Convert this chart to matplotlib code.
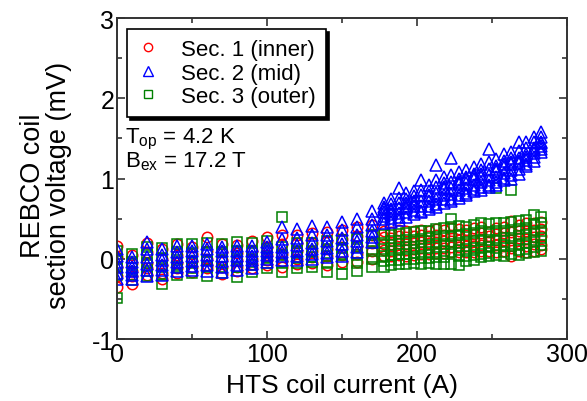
#!/usr/bin/env python3
"""REBCO coil section voltage vs HTS coil current."""

import matplotlib

matplotlib.use("Agg")
import matplotlib.pyplot as plt
from matplotlib.lines import Line2D
from matplotlib.ticker import MultipleLocator

plt.rcParams["font.family"] = ["Liberation Sans", "DejaVu Sans"]
plt.rcParams["mathtext.fontset"] = "custom"
plt.rcParams["mathtext.rm"] = "Liberation Sans"
plt.rcParams["mathtext.it"] = "Liberation Sans:italic"
plt.rcParams["axes.unicode_minus"] = False

# current columns (A)
current_low = [0, 10, 20, 30, 40, 50, 60, 70, 80, 90, 100, 110, 120, 130, 140, 150, 160, 170]
current_high = [178, 183, 188, 193, 198, 203, 208, 213, 218, 223, 228,
                233, 238, 243, 248, 253, 258, 263, 268, 273, 278, 283]

# section voltages (mV), one list per current column
sec1_low = [
    [0.16, 0.02, -0.1, -0.22, -0.35],
    [0.05, -0.05, -0.15, -0.22, -0.31],
    [0.2, 0.08, -0.05, -0.12, -0.2],
    [0.12, 0.0, -0.08, -0.18, -0.25],
    [0.18, 0.05, -0.05, -0.12, -0.18],
    [0.15, 0.06, -0.03, -0.1, -0.17],
    [0.27, 0.1, 0.0, -0.08, -0.12],
    [0.19, 0.08, -0.02, -0.1, -0.19],
    [0.17, 0.07, -0.02, -0.1, -0.15],
    [0.22, 0.1, 0.0, -0.06, -0.12],
    [0.27, 0.15, 0.05, -0.02, -0.08],
    [0.3, 0.18, 0.06, -0.03, -0.1],
    [0.3, 0.2, 0.1, 0.0, -0.06],
    [0.32, 0.2, 0.1, 0.02, -0.05],
    [0.33, 0.22, 0.12, 0.03, -0.08],
    [0.36, 0.25, 0.15, 0.05, -0.04],
    [0.4, 0.28, 0.16, 0.06, -0.04],
    [0.42, 0.3, 0.2, 0.1, 0.0],
]
sec1_high = [
    [0.35, 0.27, 0.19, 0.11, 0.04],
    [0.33, 0.26, 0.18, 0.1, 0.03],
    [0.36, 0.28, 0.2, 0.12, 0.05],
    [0.34, 0.27, 0.19, 0.11, 0.04],
    [0.35, 0.28, 0.2, 0.12, 0.05],
    [0.36, 0.29, 0.21, 0.13, 0.06],
    [0.35, 0.28, 0.2, 0.12, 0.06],
    [0.37, 0.29, 0.21, 0.14, 0.07],
    [0.36, 0.29, 0.22, 0.14, 0.07],
    [0.38, 0.3, 0.22, 0.15, 0.08],
    [0.37, 0.3, 0.23, 0.15, 0.08],
    [0.36, 0.3, 0.23, 0.16, 0.09],
    [0.38, 0.31, 0.24, 0.16, 0.09],
    [0.39, 0.32, 0.25, 0.17, 0.1],
    [0.33, 0.28, 0.22, 0.16, 0.1],
    [0.38, 0.31, 0.24, 0.17, 0.08],
    [0.4, 0.32, 0.24, 0.16, 0.1],
    [0.47, 0.33, 0.24, 0.14, 0.04],
    [0.42, 0.34, 0.26, 0.18, 0.1],
    [0.44, 0.35, 0.25, 0.16, 0.08],
    [0.45, 0.36, 0.27, 0.18, 0.1],
    [0.46, 0.37, 0.28, 0.17, 0.12],
]

sec2_low = [
    [0.12, 0.04, -0.04, -0.1, -0.18, -0.25],
    [0.02, -0.04, -0.1, -0.15, -0.2, -0.25],
    [0.21, 0.12, 0.02, -0.06, -0.14, -0.22],
    [0.12, 0.05, -0.02, -0.08, -0.14, -0.2],
    [0.16, 0.09, 0.02, -0.04, -0.1, -0.15],
    [0.16, 0.1, 0.03, -0.03, -0.09, -0.14],
    [0.19, 0.12, 0.05, -0.02, -0.08, -0.15],
    [0.15, 0.1, 0.03, -0.03, -0.1, -0.16],
    [0.16, 0.1, 0.04, -0.02, -0.08, -0.14],
    [0.16, 0.1, 0.04, -0.02, -0.07, -0.12],
    [0.21, 0.15, 0.1, 0.05, 0.0, -0.04],
    [0.39, 0.25, 0.15, 0.08, 0.03, -0.02],
    [0.37, 0.26, 0.17, 0.1, 0.04, -0.02],
    [0.41, 0.3, 0.2, 0.12, 0.06, 0.0],
    [0.4, 0.3, 0.22, 0.14, 0.07, 0.02],
    [0.46, 0.36, 0.26, 0.18, 0.1, 0.04],
    [0.5, 0.4, 0.3, 0.22, 0.15, 0.08],
    [0.6, 0.5, 0.42, 0.34, 0.27, 0.21],
]
sec2_high = [
    [0.7, 0.64, 0.58, 0.53, 0.49, 0.45, 0.62],
    [0.74, 0.68, 0.62, 0.56, 0.51, 0.46, 0.6],
    [0.88, 0.76, 0.69, 0.63, 0.57, 0.52, 0.48],
    [0.82, 0.75, 0.69, 0.63, 0.58, 0.52, 0.66],
    [0.84, 0.78, 0.72, 0.66, 0.61, 0.56, 0.7],
    [0.98, 0.86, 0.79, 0.72, 0.66, 0.6, 0.58],
    [0.92, 0.85, 0.78, 0.72, 0.66, 0.62, 0.8],
    [1.17, 0.98, 0.9, 0.82, 0.75, 0.68, 0.64],
    [1.02, 0.94, 0.87, 0.8, 0.74, 0.7, 0.9],
    [1.25, 1.04, 0.96, 0.88, 0.81, 0.75, 0.72],
    [1.08, 1.0, 0.93, 0.86, 0.8, 0.76, 0.96],
    [1.1, 1.02, 0.95, 0.88, 0.82, 0.8, 0.99],
    [1.14, 1.06, 0.99, 0.92, 0.87, 0.84, 1.03],
    [1.18, 1.1, 1.02, 0.96, 0.9, 0.86, 1.06],
    [1.37, 1.2, 1.12, 1.05, 0.98, 0.92, 0.89],
    [1.24, 1.16, 1.09, 1.02, 0.96, 0.92, 1.12],
    [1.3, 1.22, 1.14, 1.07, 1.01, 0.98, 1.18],
    [1.33, 1.25, 1.18, 1.11, 1.05, 1.0, 1.2],
    [1.45, 1.34, 1.26, 1.19, 1.12, 1.06, 1.22],
    [1.46, 1.38, 1.3, 1.23, 1.18, 1.15, 1.27],
    [1.52, 1.45, 1.38, 1.32, 1.27, 1.22, 1.35],
    [1.58, 1.52, 1.46, 1.41, 1.37, 1.33, 1.44],
]

sec3_low = [
    [0.1, 0.0, -0.1, -0.2, -0.49],
    [0.06, -0.04, -0.12, -0.2, -0.27],
    [0.15, 0.05, -0.05, -0.15, -0.22],
    [0.14, 0.0, -0.1, -0.2, -0.31],
    [0.19, 0.08, -0.02, -0.1, -0.2],
    [0.18, 0.07, -0.03, -0.12, -0.18],
    [0.2, 0.08, -0.02, -0.1, -0.21],
    [0.18, 0.08, -0.02, -0.1, -0.18],
    [0.21, 0.1, 0.0, -0.1, -0.23],
    [0.2, 0.1, 0.0, -0.08, -0.17],
    [0.22, 0.12, 0.02, -0.05, -0.12],
    [0.52, 0.15, 0.05, -0.05, -0.16],
    [0.2, 0.1, 0.02, -0.05, -0.12],
    [0.2, 0.1, 0.02, -0.04, -0.1],
    [0.22, 0.12, 0.03, -0.05, -0.16],
    [0.24, 0.14, 0.05, -0.06, -0.19],
    [0.25, 0.15, 0.05, -0.05, -0.15],
    [0.29, 0.2, 0.1, 0.0, -0.1],
]
sec3_high = [
    [0.29, 0.2, 0.12, 0.04, -0.03, -0.1],
    [0.3, 0.22, 0.13, 0.05, -0.02, -0.08],
    [0.31, 0.22, 0.14, 0.06, -0.01, -0.07],
    [0.32, 0.23, 0.15, 0.06, 0.0, -0.06],
    [0.33, 0.24, 0.15, 0.07, 0.0, -0.05],
    [0.34, 0.25, 0.16, 0.08, 0.01, -0.06],
    [0.35, 0.26, 0.17, 0.08, 0.01, -0.05],
    [0.37, 0.27, 0.18, 0.09, 0.02, -0.06],
    [0.38, 0.28, 0.19, 0.1, 0.02, -0.07],
    [0.5, 0.39, 0.28, 0.18, 0.08, -0.06],
    [0.41, 0.3, 0.2, 0.11, 0.03, -0.08],
    [0.4, 0.31, 0.21, 0.12, 0.04, -0.03],
    [0.42, 0.32, 0.22, 0.13, 0.05, -0.02],
    [0.44, 0.34, 0.24, 0.14, 0.06, 0.02],
    [0.43, 0.33, 0.24, 0.15, 0.07, 0.03],
    [0.88, 0.44, 0.34, 0.24, 0.14, 0.05],
    [0.45, 0.35, 0.26, 0.17, 0.09, 0.04],
    [0.86, 0.46, 0.36, 0.26, 0.16, 0.06],
    [0.47, 0.37, 0.28, 0.19, 0.11, 0.05],
    [0.48, 0.38, 0.29, 0.2, 0.12, 0.07],
    [0.54, 0.43, 0.33, 0.23, 0.15, 0.09],
    [0.52, 0.44, 0.35, 0.26, 0.17, 0.1],
]

LABELS = ["Sec. 1 (inner)", "Sec. 2 (mid)", "Sec. 3 (outer)"]
COLORS = ["#ff0000", "#0000ff", "#008000"]
MARKERS = ["o", "^", "s"]
SIZES = [7.5, 9.0, 6.5]


def flatten(currents, columns):
    xs, ys = [], []
    for x, col in zip(currents, columns):
        for v in col:
            xs.append(x)
            ys.append(v)
    return xs, ys


def main() -> None:
    fig = plt.figure(figsize=(5.87, 4.02), dpi=100)
    ax = fig.add_axes([0.1993, 0.1542, 0.7666, 0.7985])

    series = [
        (sec1_low + sec1_high),
        (sec2_low + sec2_high),
        (sec3_low + sec3_high),
    ]
    currents = current_low + current_high

    # draw order: sec1, sec3, sec2 (triangles on top)
    for idx in [0, 2, 1]:
        xs, ys = flatten(currents, series[idx])
        ax.plot(xs, ys, linestyle="none", marker=MARKERS[idx], markersize=SIZES[idx],
                markerfacecolor="none", markeredgecolor=COLORS[idx], markeredgewidth=1.1)

    ax.set_xlim(0, 300)
    ax.set_ylim(-1, 3)
    ax.xaxis.set_major_locator(MultipleLocator(100))
    ax.xaxis.set_minor_locator(MultipleLocator(50))
    ax.yaxis.set_major_locator(MultipleLocator(1))
    ax.yaxis.set_minor_locator(MultipleLocator(0.5))
    ax.tick_params(which="both", direction="in", top=True, right=True, labelsize=18,
                   width=1.2, color="#333333")
    ax.tick_params(which="major", length=6, pad=2)
    ax.tick_params(which="minor", length=3.5)
    for spine in ax.spines.values():
        spine.set_linewidth(1.4)
        spine.set_color("#333333")

    ax.set_xlabel("HTS coil current (A)", fontsize=19, labelpad=5)
    ax.set_ylabel("REBCO coil\nsection voltage (mV)", fontsize=19.5, linespacing=1.0)
    ax.yaxis.set_label_coords(-0.1, 0.48)

    handles = [
        Line2D([], [], linestyle="none", marker=MARKERS[i], markersize=SIZES[i] * 0.8,
               markerfacecolor="none", markeredgecolor=COLORS[i], markeredgewidth=1.0)
        for i in range(3)
    ]
    leg = ax.legend(handles, LABELS, loc="upper left", bbox_to_anchor=(0.022, 0.966),
                    fontsize=16, frameon=True, fancybox=False, handlelength=1.0,
                    handletextpad=1.0, labelspacing=0.12, borderpad=0.45,
                    borderaxespad=0.0, shadow={"color": "black", "alpha": 1.0})
    leg.get_frame().set_edgecolor("black")
    leg.get_frame().set_linewidth(1.2)

    ax.text(0.018, 0.665, "T$_{\\rm op}$ = 4.2 K\nB$_{\\rm ex}$ = 17.2 T", transform=ax.transAxes,
            fontsize=16, va="top", ha="left", linespacing=0.95)

    fig.savefig("out.png", dpi=100)
    plt.close(fig)


if __name__ == "__main__":
    main()
